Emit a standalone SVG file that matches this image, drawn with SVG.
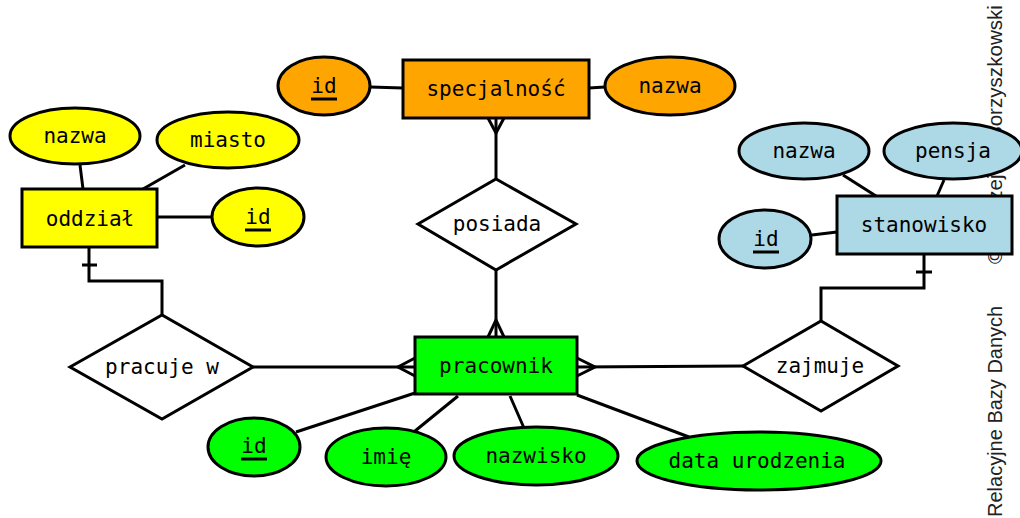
<svg xmlns="http://www.w3.org/2000/svg" width="1020" height="518" viewBox="0 0 1020 518">
<style>
.s{stroke:#000;stroke-width:3}
.c{fill:none;stroke:#000;stroke-width:3}
.t{font-family:"DejaVu Sans Mono",monospace;font-size:21px;text-anchor:middle;fill:#000}
.side{font-family:"Liberation Sans",Arial,sans-serif;font-size:20px;fill:#222}
.y{fill:#ffff00}.o{fill:#ffa500}.b{fill:#add8e6}.g{fill:#00ff00}.w{fill:#fff}
</style>
<rect width="1020" height="518" fill="#fff"/>
<g id="side-text">
<text class="side" style="font-size:20.6px" transform="translate(1002,264) rotate(-90)">© Andrzej M. Borzyszkowski</text>
<text class="side" transform="translate(1002,517) rotate(-90)">Relacyjne Bazy Danych</text>
</g>
<g id="connectors">
<line class="c" x1="80" y1="165" x2="83" y2="189"/>
<line class="c" x1="185" y1="165" x2="143" y2="189"/>
<line class="c" x1="157" y1="217" x2="212" y2="217"/>
<polyline class="c" points="89,248 89,281 162,281 162,315"/>
<line class="c" x1="82" y1="265" x2="97" y2="265"/>
<line class="c" x1="253" y1="367" x2="415" y2="367"/>
<polyline class="c" points="415,358 398,367 415,376"/>
<line class="c" x1="370" y1="87" x2="403" y2="88"/>
<line class="c" x1="589" y1="88" x2="605" y2="87"/>
<line class="c" x1="496" y1="118" x2="496" y2="179"/>
<polyline class="c" points="488,118 496,133 504,118"/>
<line class="c" x1="496" y1="270" x2="496" y2="337"/>
<polyline class="c" points="488,337 496,320 504,337"/>
<line class="c" x1="577" y1="367" x2="743" y2="366"/>
<polyline class="c" points="577,358 595,367 577,376"/>
<line class="c" x1="843" y1="175" x2="876" y2="196"/>
<line class="c" x1="944" y1="180" x2="937" y2="196"/>
<line class="c" x1="812" y1="235" x2="837" y2="232"/>
<polyline class="c" points="924,254 924,288 821,288 821,321"/>
<line class="c" x1="916" y1="272" x2="932" y2="272"/>
<line class="c" x1="415" y1="393" x2="296" y2="432"/>
<line class="c" x1="458" y1="396" x2="415" y2="431"/>
<line class="c" x1="510" y1="396" x2="524" y2="428"/>
<line class="c" x1="577" y1="395" x2="689" y2="437"/>
</g>
<g id="oddzial"><rect class="s y" x="22" y="189" width="135" height="58"/><text class="t" x="90" y="226">oddział</text></g>
<g id="oddzial-nazwa"><ellipse class="s y" cx="75" cy="136" rx="65" ry="28"/><text class="t" x="75" y="143">nazwa</text></g>
<g id="oddzial-miasto"><ellipse class="s y" cx="228" cy="140" rx="71" ry="28"/><text class="t" x="228" y="147">miasto</text></g>
<g id="oddzial-id"><ellipse class="s y" cx="258" cy="217" rx="46" ry="29"/><text class="t" x="258" y="224">id</text><line class="c" x1="245" y1="230" x2="271" y2="230"/></g>
<g id="pracuje-w"><polygon class="s w" points="70,367 162,315 253,367 162,419"/><text class="t" x="162" y="374">pracuje w</text></g>
<g id="specjalnosc"><rect class="s o" x="403" y="60" width="186" height="58"/><text class="t" x="496" y="96">specjalność</text></g>
<g id="specjalnosc-id"><ellipse class="s o" cx="324" cy="86" rx="46" ry="29"/><text class="t" x="324" y="93">id</text><line class="c" x1="311" y1="99" x2="337" y2="99"/></g>
<g id="specjalnosc-nazwa"><ellipse class="s o" cx="670" cy="86" rx="65" ry="29"/><text class="t" x="670" y="93">nazwa</text></g>
<g id="posiada"><polygon class="s w" points="418,224 496,179 576,224 496,270"/><text class="t" x="497" y="231">posiada</text></g>
<g id="pracownik"><rect class="s g" x="415" y="337" width="162" height="57"/><text class="t" x="496" y="373">pracownik</text></g>
<g id="zajmuje"><polygon class="s w" points="743,366 821,321 898,366 821,411"/><text class="t" x="820" y="373">zajmuje</text></g>
<g id="stanowisko"><rect class="s b" x="837" y="196" width="175" height="58"/><text class="t" x="924" y="232">stanowisko</text></g>
<g id="stanowisko-nazwa"><ellipse class="s b" cx="804" cy="151" rx="65" ry="28"/><text class="t" x="804" y="158">nazwa</text></g>
<g id="stanowisko-pensja"><ellipse class="s b" cx="953" cy="151" rx="69" ry="28"/><text class="t" x="953" y="158">pensja</text></g>
<g id="stanowisko-id"><ellipse class="s b" cx="765" cy="239" rx="46" ry="29"/><text class="t" x="766" y="246">id</text><line class="c" x1="753" y1="252" x2="779" y2="252"/></g>
<g id="pracownik-id"><ellipse class="s g" cx="254" cy="447" rx="46" ry="29"/><text class="t" x="254" y="453">id</text><line class="c" x1="241" y1="459" x2="267" y2="459"/></g>
<g id="pracownik-imie"><ellipse class="s g" cx="386" cy="457" rx="60" ry="29"/><text class="t" x="386" y="464">imię</text></g>
<g id="pracownik-nazwisko"><ellipse class="s g" cx="536" cy="456" rx="82" ry="29"/><text class="t" x="536" y="463">nazwisko</text></g>
<g id="pracownik-data"><ellipse class="s g" cx="759" cy="461" rx="122" ry="29"/><text class="t" x="757" y="468">data urodzenia</text></g>
</svg>
